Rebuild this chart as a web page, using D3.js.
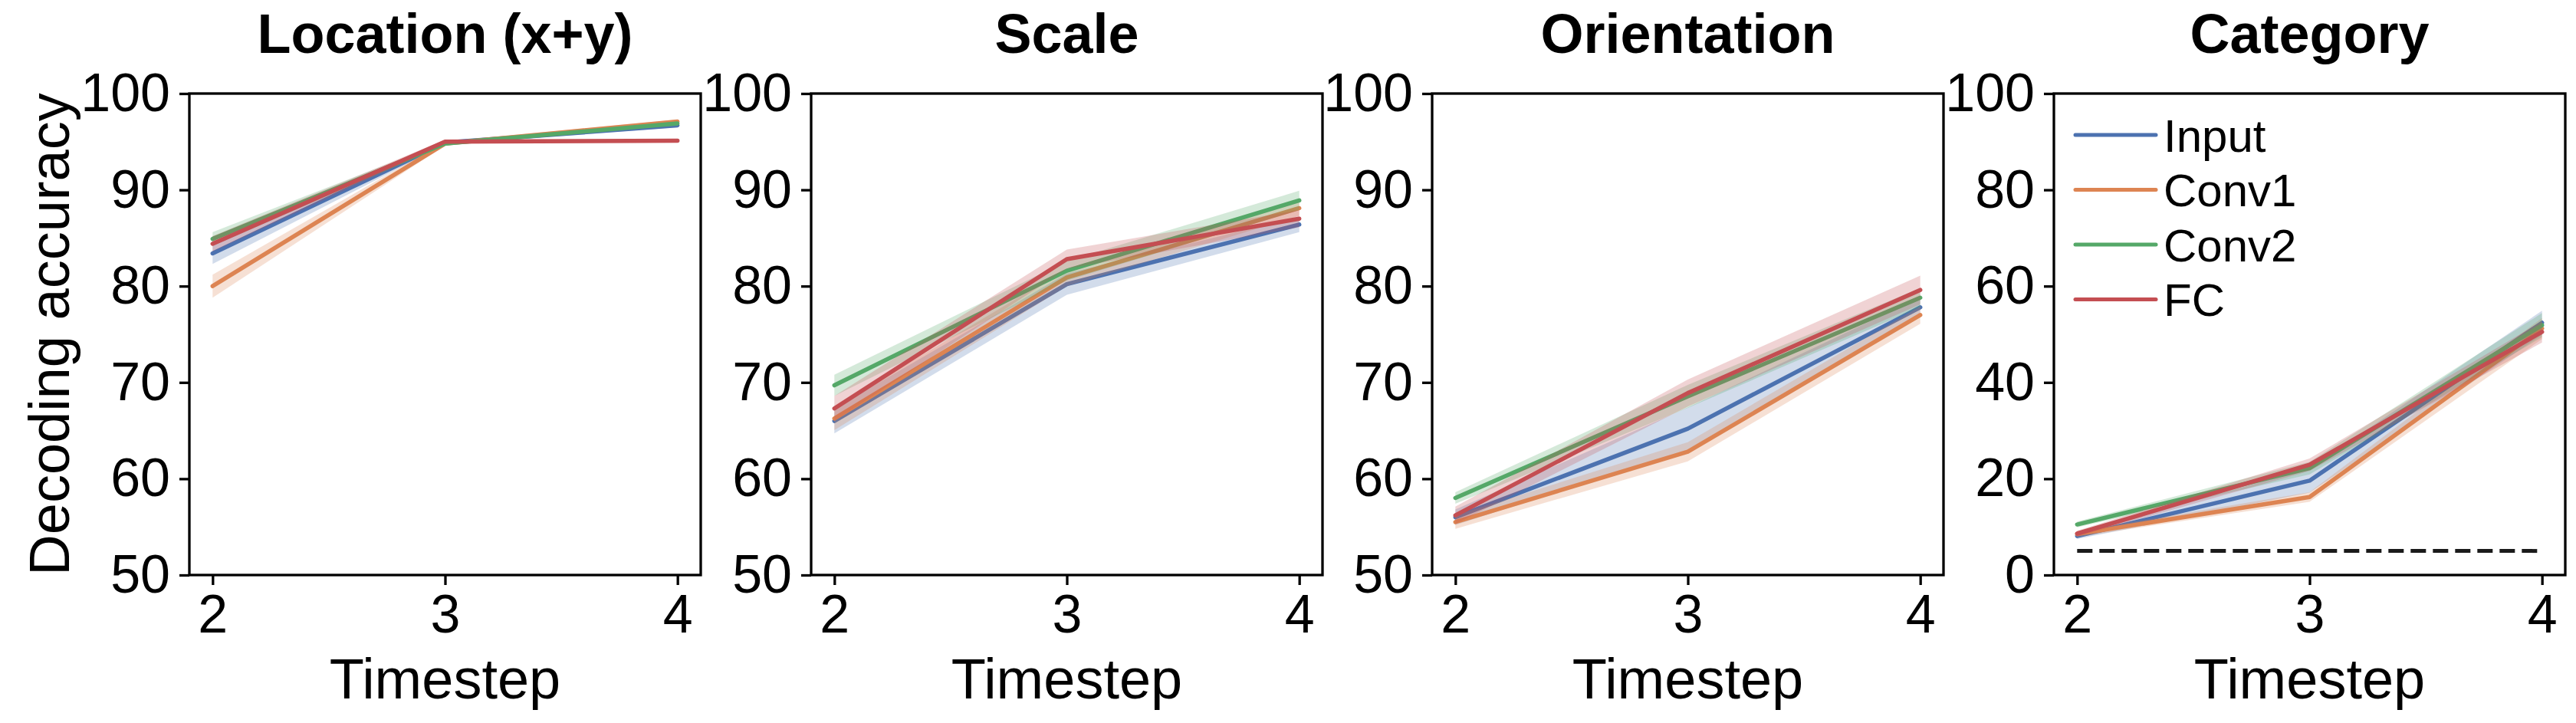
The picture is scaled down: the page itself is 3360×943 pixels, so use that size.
<!DOCTYPE html>
<html>
<head>
<meta charset="utf-8">
<script src="https://d3js.org/d3.v7.min.js"></script>
<style>
  body { margin: 0; background: #fff; }
  svg { display: block; font-family: "Liberation Sans", Arial, Helvetica, sans-serif; }
  .tick text { font-size: 70px; fill: #000; }
  .title { font-size: 72px; font-weight: bold; }
  .label { font-size: 74px; }
  .legend text { font-size: 60px; }
</style>
</head>
<body>
<script>
// data
var timesteps = [2, 3, 4];
var layers = ["Input", "Conv1", "Conv2", "FC"];
var colors = ["#4C72B0", "#DD8452", "#55A868", "#C44E52"];
var titles = ["Location (x+y)", "Scale", "Orientation", "Category"];

// mean accuracy per layer (rows follow `layers`)
var locationMean = [[83.4, 94.9, 96.7], [80.0, 94.8, 97.1], [84.9, 94.8, 96.9], [84.4, 95.0, 95.1]];
var locationErr  = [[1.1, 0.2, 0.2], [1.2, 0.2, 0.2], [0.7, 0.2, 0.2], [0.8, 0.2, 0.2]];
var scaleMean = [[66.0, 80.2, 86.4], [66.25, 80.9, 88.1], [69.7, 81.6, 88.9], [67.3, 82.8, 87.0]];
var scaleErr  = [[1.3, 1.1, 0.8], [1.2, 0.9, 0.8], [1.1, 1.0, 1.0], [1.3, 1.0, 0.9]];
var orientMean = [[56.0, 65.2, 77.8], [55.5, 62.8, 77.0], [58.0, 68.55, 78.8], [56.2, 68.9, 79.6]];
var orientErr  = [[0.8, 2.2, 1.0], [0.7, 1.0, 0.9], [0.6, 1.2, 1.0], [0.9, 1.4, 1.5]];
var categoryMean = [[8.1, 19.6, 52.4], [8.5, 16.2, 51.2], [10.5, 22.2, 51.9], [8.6, 22.9, 50.5]];
var categoryErr  = [[0.6, 2.5, 2.5], [0.6, 1.0, 2.2], [0.6, 1.3, 2.5], [0.6, 1.3, 2.2]];
var chanceLevel = 5;

var yTicksA = [50, 60, 70, 80, 90, 100];
var yTicksB = [0, 20, 40, 60, 80, 100];

var panels = [
  {mean: locationMean, err: locationErr, yDomain: [50, 100], yTicks: yTicksA},
  {mean: scaleMean, err: scaleErr, yDomain: [50, 100], yTicks: yTicksA},
  {mean: orientMean, err: orientErr, yDomain: [50, 100], yTicks: yTicksA},
  {mean: categoryMean, err: categoryErr, yDomain: [0, 100], yTicks: yTicksB, chance: chanceLevel, legend: true}
];

var W = 3360, H = 943;
var plotTop = 122, plotBottom = 750, pw = 667, lefts = [247, 1058, 1868, 2679];

var svg = d3.select("body").append("svg").attr("width", W).attr("height", H);
svg.append("rect").attr("width", W).attr("height", H).attr("fill", "#fff");

panels.forEach(function(p, i){
  var g = svg.append("g").attr("transform", "translate(" + lefts[i] + ",0)");
  var x = d3.scaleLinear().domain([1.9, 4.1]).range([0, pw]);
  var y = d3.scaleLinear().domain(p.yDomain).range([plotBottom, plotTop]);

  // bands then lines, layer by layer
  p.mean.forEach(function(m, k){
    var pts = timesteps.map(function(t, j){ return {t: t, v: m[j], e: p.err[k][j]}; });
    g.append("path")
      .datum(pts)
      .attr("fill", colors[k]).attr("fill-opacity", 0.25)
      .attr("d", d3.area().x(function(d){ return x(d.t); })
        .y0(function(d){ return y(d.v - d.e); })
        .y1(function(d){ return y(d.v + d.e); }));
    g.append("path")
      .datum(pts)
      .attr("fill", "none").attr("stroke", colors[k]).attr("stroke-width", 5.5)
      .attr("stroke-linecap", "round").attr("stroke-linejoin", "round")
      .attr("d", d3.line().x(function(d){ return x(d.t); }).y(function(d){ return y(d.v); }));
  });

  if (p.chance !== undefined) {
    g.append("line")
      .attr("x1", x(2)).attr("x2", x(4))
      .attr("y1", y(p.chance)).attr("y2", y(p.chance))
      .attr("stroke", "#1a1a1a").attr("stroke-width", 5)
      .attr("stroke-dasharray", "20,9");
  }

  // frame
  g.append("rect").attr("x", 0).attr("y", plotTop).attr("width", pw).attr("height", plotBottom - plotTop)
    .attr("fill", "none").attr("stroke", "#000").attr("stroke-width", 3.3);

  var xa = g.append("g").attr("transform", "translate(0," + plotBottom + ")")
    .call(d3.axisBottom(x).tickValues(timesteps).tickFormat(d3.format("d")).tickSize(13).tickPadding(12));
  var ya = g.append("g")
    .call(d3.axisLeft(y).tickValues(p.yTicks).tickFormat(d3.format("d")).tickSize(13).tickPadding(12));
  [xa, ya].forEach(function(a){
    a.select(".domain").remove();
    a.selectAll(".tick line").attr("stroke", "#000").attr("stroke-width", 3.3);
    a.selectAll(".tick text").attr("fill", "#000");
  });
  xa.selectAll(".tick text").attr("dy", "0.72em");

  g.append("text").attr("class", "title")
    .attr("x", pw / 2).attr("y", 69).attr("text-anchor", "middle").text(titles[i]);
  g.append("text").attr("class", "label")
    .attr("x", pw / 2).attr("y", 911).attr("text-anchor", "middle").text("Timestep");

  if (p.legend) {
    var lg = g.append("g").attr("class", "legend");
    layers.forEach(function(name, k){
      var ly = 176 + k * 71.5;
      lg.append("line").attr("x1", 28).attr("x2", 133).attr("y1", ly).attr("y2", ly)
        .attr("stroke", colors[k]).attr("stroke-width", 5).attr("stroke-linecap", "round");
      lg.append("text").attr("x", 143).attr("y", ly).attr("dy", "0.36em").text(name);
    });
  }
});

svg.append("text").attr("class", "label")
  .attr("transform", "translate(90," + (plotTop + plotBottom) / 2 + ") rotate(-90)")
  .attr("text-anchor", "middle").text("Decoding accuracy");
</script>
</body>
</html>
